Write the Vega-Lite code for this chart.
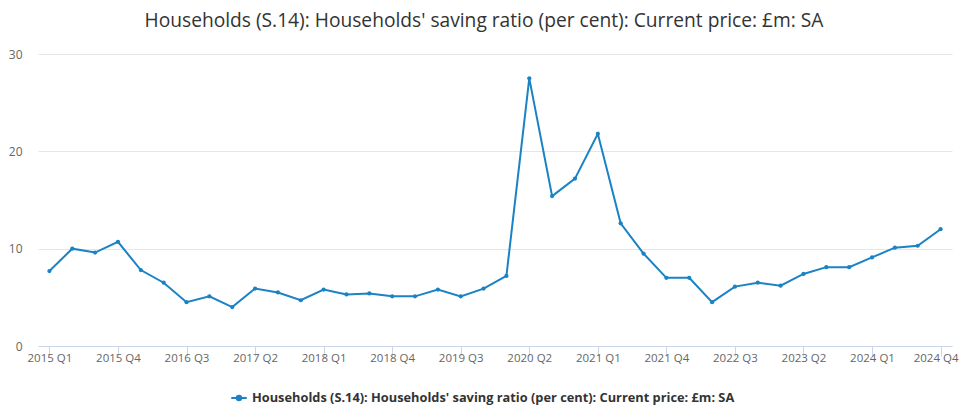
{
  "$schema": "https://vega.github.io/schema/vega-lite/v6.json",
  "autosize": "none",
  "width": 914,
  "height": 292,
  "padding": {"left": 38, "top": 54, "right": 8, "bottom": 64},
  "background": "white",
  "config": {
    "view": {"stroke": null},
    "font": "Open Sans"
  },
  "title": {
    "text": "Households (S.14): Households' saving ratio (per cent): Current price: £m: SA",
    "font": "Open Sans",
    "fontSize": 19.2,
    "fontWeight": "normal",
    "color": "#333333",
    "anchor": "middle",
    "dx": -11,
    "offset": 17
  },
  "data": {
    "values": [
      {"quarter": "2015 Q1", "value": 7.7, "series": "Households (S.14): Households' saving ratio (per cent): Current price: £m: SA"},
      {"quarter": "2015 Q2", "value": 10.0, "series": "Households (S.14): Households' saving ratio (per cent): Current price: £m: SA"},
      {"quarter": "2015 Q3", "value": 9.6, "series": "Households (S.14): Households' saving ratio (per cent): Current price: £m: SA"},
      {"quarter": "2015 Q4", "value": 10.7, "series": "Households (S.14): Households' saving ratio (per cent): Current price: £m: SA"},
      {"quarter": "2016 Q1", "value": 7.8, "series": "Households (S.14): Households' saving ratio (per cent): Current price: £m: SA"},
      {"quarter": "2016 Q2", "value": 6.5, "series": "Households (S.14): Households' saving ratio (per cent): Current price: £m: SA"},
      {"quarter": "2016 Q3", "value": 4.5, "series": "Households (S.14): Households' saving ratio (per cent): Current price: £m: SA"},
      {"quarter": "2016 Q4", "value": 5.1, "series": "Households (S.14): Households' saving ratio (per cent): Current price: £m: SA"},
      {"quarter": "2017 Q1", "value": 4.0, "series": "Households (S.14): Households' saving ratio (per cent): Current price: £m: SA"},
      {"quarter": "2017 Q2", "value": 5.9, "series": "Households (S.14): Households' saving ratio (per cent): Current price: £m: SA"},
      {"quarter": "2017 Q3", "value": 5.5, "series": "Households (S.14): Households' saving ratio (per cent): Current price: £m: SA"},
      {"quarter": "2017 Q4", "value": 4.7, "series": "Households (S.14): Households' saving ratio (per cent): Current price: £m: SA"},
      {"quarter": "2018 Q1", "value": 5.8, "series": "Households (S.14): Households' saving ratio (per cent): Current price: £m: SA"},
      {"quarter": "2018 Q2", "value": 5.3, "series": "Households (S.14): Households' saving ratio (per cent): Current price: £m: SA"},
      {"quarter": "2018 Q3", "value": 5.4, "series": "Households (S.14): Households' saving ratio (per cent): Current price: £m: SA"},
      {"quarter": "2018 Q4", "value": 5.1, "series": "Households (S.14): Households' saving ratio (per cent): Current price: £m: SA"},
      {"quarter": "2019 Q1", "value": 5.1, "series": "Households (S.14): Households' saving ratio (per cent): Current price: £m: SA"},
      {"quarter": "2019 Q2", "value": 5.8, "series": "Households (S.14): Households' saving ratio (per cent): Current price: £m: SA"},
      {"quarter": "2019 Q3", "value": 5.1, "series": "Households (S.14): Households' saving ratio (per cent): Current price: £m: SA"},
      {"quarter": "2019 Q4", "value": 5.9, "series": "Households (S.14): Households' saving ratio (per cent): Current price: £m: SA"},
      {"quarter": "2020 Q1", "value": 7.2, "series": "Households (S.14): Households' saving ratio (per cent): Current price: £m: SA"},
      {"quarter": "2020 Q2", "value": 27.5, "series": "Households (S.14): Households' saving ratio (per cent): Current price: £m: SA"},
      {"quarter": "2020 Q3", "value": 15.4, "series": "Households (S.14): Households' saving ratio (per cent): Current price: £m: SA"},
      {"quarter": "2020 Q4", "value": 17.2, "series": "Households (S.14): Households' saving ratio (per cent): Current price: £m: SA"},
      {"quarter": "2021 Q1", "value": 21.8, "series": "Households (S.14): Households' saving ratio (per cent): Current price: £m: SA"},
      {"quarter": "2021 Q2", "value": 12.6, "series": "Households (S.14): Households' saving ratio (per cent): Current price: £m: SA"},
      {"quarter": "2021 Q3", "value": 9.5, "series": "Households (S.14): Households' saving ratio (per cent): Current price: £m: SA"},
      {"quarter": "2021 Q4", "value": 7.0, "series": "Households (S.14): Households' saving ratio (per cent): Current price: £m: SA"},
      {"quarter": "2022 Q1", "value": 7.0, "series": "Households (S.14): Households' saving ratio (per cent): Current price: £m: SA"},
      {"quarter": "2022 Q2", "value": 4.5, "series": "Households (S.14): Households' saving ratio (per cent): Current price: £m: SA"},
      {"quarter": "2022 Q3", "value": 6.1, "series": "Households (S.14): Households' saving ratio (per cent): Current price: £m: SA"},
      {"quarter": "2022 Q4", "value": 6.5, "series": "Households (S.14): Households' saving ratio (per cent): Current price: £m: SA"},
      {"quarter": "2023 Q1", "value": 6.2, "series": "Households (S.14): Households' saving ratio (per cent): Current price: £m: SA"},
      {"quarter": "2023 Q2", "value": 7.4, "series": "Households (S.14): Households' saving ratio (per cent): Current price: £m: SA"},
      {"quarter": "2023 Q3", "value": 8.1, "series": "Households (S.14): Households' saving ratio (per cent): Current price: £m: SA"},
      {"quarter": "2023 Q4", "value": 8.1, "series": "Households (S.14): Households' saving ratio (per cent): Current price: £m: SA"},
      {"quarter": "2024 Q1", "value": 9.1, "series": "Households (S.14): Households' saving ratio (per cent): Current price: £m: SA"},
      {"quarter": "2024 Q2", "value": 10.1, "series": "Households (S.14): Households' saving ratio (per cent): Current price: £m: SA"},
      {"quarter": "2024 Q3", "value": 10.3, "series": "Households (S.14): Households' saving ratio (per cent): Current price: £m: SA"},
      {"quarter": "2024 Q4", "value": 12.0, "series": "Households (S.14): Households' saving ratio (per cent): Current price: £m: SA"}
    ]
  },
  "mark": {
    "type": "line",
    "strokeWidth": 2,
    "point": {"filled": true, "size": 18}
  },
  "encoding": {
    "x": {
      "field": "quarter",
      "type": "ordinal",
      "sort": null,
      "scale": {"type": "point", "padding": 0.5},
      "axis": {
        "title": null,
        "values": ["2015 Q1", "2015 Q4", "2016 Q3", "2017 Q2", "2018 Q1", "2018 Q4", "2019 Q3", "2020 Q2", "2021 Q1", "2021 Q4", "2022 Q3", "2023 Q2", "2024 Q1", "2024 Q4"],
        "labelAngle": 0,
        "labelFont": "Open Sans",
        "labelFontSize": 11.5,
        "labelColor": "#666666",
        "labelPadding": -4,
        "labelOffset": {"condition": {"test": "datum.value == '2024 Q4'", "value": -5}, "value": 0},
        "domainColor": "#ccd6eb",
        "tickColor": "#ccd6eb",
        "tickSize": 10,
        "grid": false
      }
    },
    "y": {
      "field": "value",
      "type": "quantitative",
      "scale": {"domain": [0, 30]},
      "axis": {
        "title": null,
        "values": [0, 10, 20, 30],
        "labelFont": "Open Sans",
        "labelFontSize": 12,
        "labelColor": "#666666",
        "labelPadding": 16,
        "domain": false,
        "ticks": false,
        "gridColor": "#e6e6e6",
        "gridWidth": 1
      }
    },
    "color": {
      "field": "series",
      "type": "nominal",
      "scale": {"range": ["#1a82c5"]},
      "legend": {
        "title": null,
        "orient": "none",
        "legendX": 192,
        "legendY": 335,
        "labelFont": "Open Sans",
        "labelFontSize": 12.8,
        "labelFontWeight": "bold",
        "labelColor": "#333333",
        "labelLimit": 800,
        "symbolType": "M-1,0H1M0.28,0A0.28,0.28 0 1,1 -0.28,0A0.28,0.28 0 1,1 0.28,0Z",
        "symbolSize": 240,
        "symbolStrokeWidth": 2,
        "symbolFillColor": "#1a82c5",
        "symbolStrokeColor": "#1a82c5"
      }
    }
  }
}
